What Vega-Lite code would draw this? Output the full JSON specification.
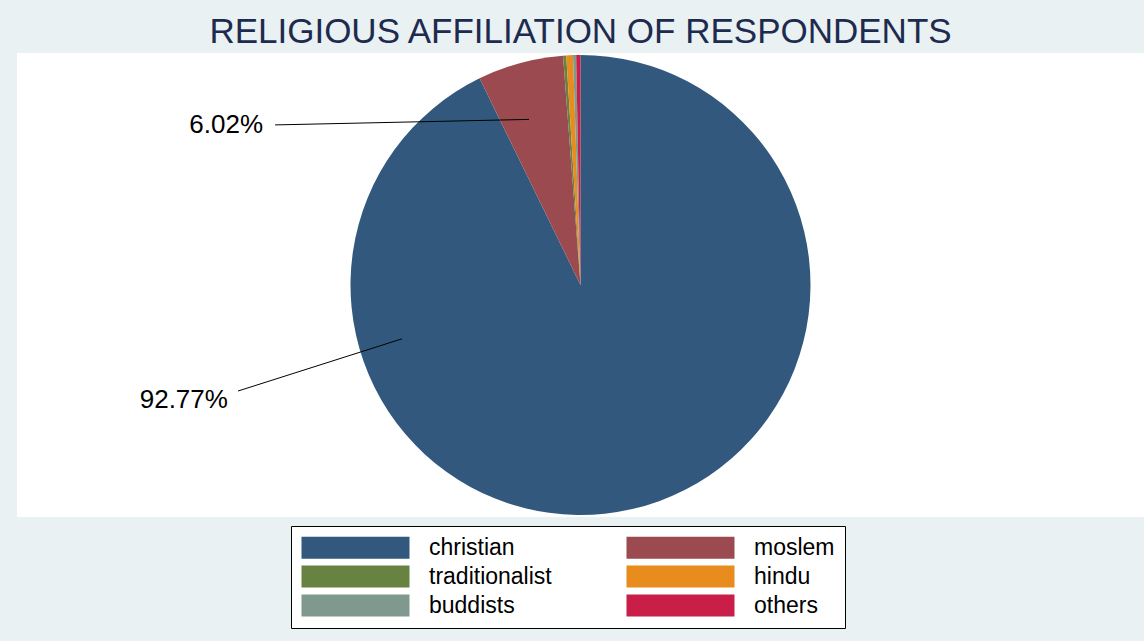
{
  "$schema": "https://vega.github.io/schema/vega-lite/v6.json",
  "width": 1127,
  "height": 464,
  "autosize": {"type": "none"},
  "padding": {"left": 17, "top": 53, "right": 0, "bottom": 124},
  "background": "#EAF1F3",
  "config": {"view": {"fill": "white", "stroke": null}},
  "title": {
    "text": "RELIGIOUS AFFILIATION OF RESPONDENTS",
    "fontSize": 35,
    "font": "Liberation Sans",
    "fontWeight": "normal",
    "color": "#1D2B4F",
    "anchor": "middle",
    "offset": 3
  },
  "datasets": {
    "slices": [
      {"religion": "christian", "pct": 92.77, "rank": 1},
      {"religion": "moslem", "pct": 6.02, "rank": 2},
      {"religion": "traditionalist", "pct": 0.22, "rank": 3},
      {"religion": "hindu", "pct": 0.47, "rank": 4},
      {"religion": "buddists", "pct": 0.22, "rank": 5},
      {"religion": "others", "pct": 0.30, "rank": 6}
    ],
    "labels": [
      {"label": "6.02%", "tx": -138.0, "ty": 69.6, "lx1": -132.8, "ly1": 69.6, "lx2": -22.4, "ly2": 72.0},
      {"label": "92.77%", "tx": -153.3, "ty": -50.0, "lx1": -148.9, "ly1": -46.1, "lx2": -77.6, "ly2": -23.4}
    ]
  },
  "layer": [
    {
      "data": {"name": "slices"},
      "mark": {"type": "arc", "radius": 230},
      "encoding": {
        "theta": {"field": "pct", "type": "quantitative", "stack": true},
        "order": {"field": "rank", "type": "quantitative"},
        "color": {
          "field": "religion",
          "type": "nominal",
          "scale": {
            "domain": ["christian", "traditionalist", "buddists", "moslem", "hindu", "others"],
            "range": ["#32597D", "#678241", "#7F998F", "#9B4A50", "#E88C1E", "#C91E47"]
          },
          "legend": {
            "orient": "none",
            "legendX": 274,
            "legendY": 473,
            "columns": 2,
            "title": null,
            "symbolType": "M-1,-1H8.818V1H-1Z",
            "symbolSize": 484,
            "symbolStrokeWidth": 0,
            "symbolOpacity": 1,
            "labelFontSize": 23,
            "labelFont": "Liberation Sans",
            "labelColor": "black",
            "labelOffset": 105,
            "labelLimit": 300,
            "columnPadding": 74,
            "rowPadding": 5,
            "padding": 10,
            "strokeColor": "black",
            "fillColor": "white"
          }
        }
      }
    },
    {
      "data": {"name": "labels"},
      "mark": {"type": "rule", "color": "black", "strokeWidth": 1},
      "encoding": {
        "x": {"field": "lx1", "type": "quantitative", "scale": {"domain": [-245, 245], "nice": false, "zero": false}, "axis": null},
        "y": {"field": "ly1", "type": "quantitative", "scale": {"domain": [-100.87, 100.87], "nice": false, "zero": false}, "axis": null},
        "x2": {"field": "lx2"},
        "y2": {"field": "ly2"}
      }
    },
    {
      "data": {"name": "labels"},
      "mark": {"type": "text", "align": "right", "baseline": "middle", "fontSize": 26, "font": "Liberation Sans", "color": "black"},
      "encoding": {
        "x": {"field": "tx", "type": "quantitative", "axis": null},
        "y": {"field": "ty", "type": "quantitative", "axis": null},
        "text": {"field": "label", "type": "nominal"}
      }
    }
  ]
}
